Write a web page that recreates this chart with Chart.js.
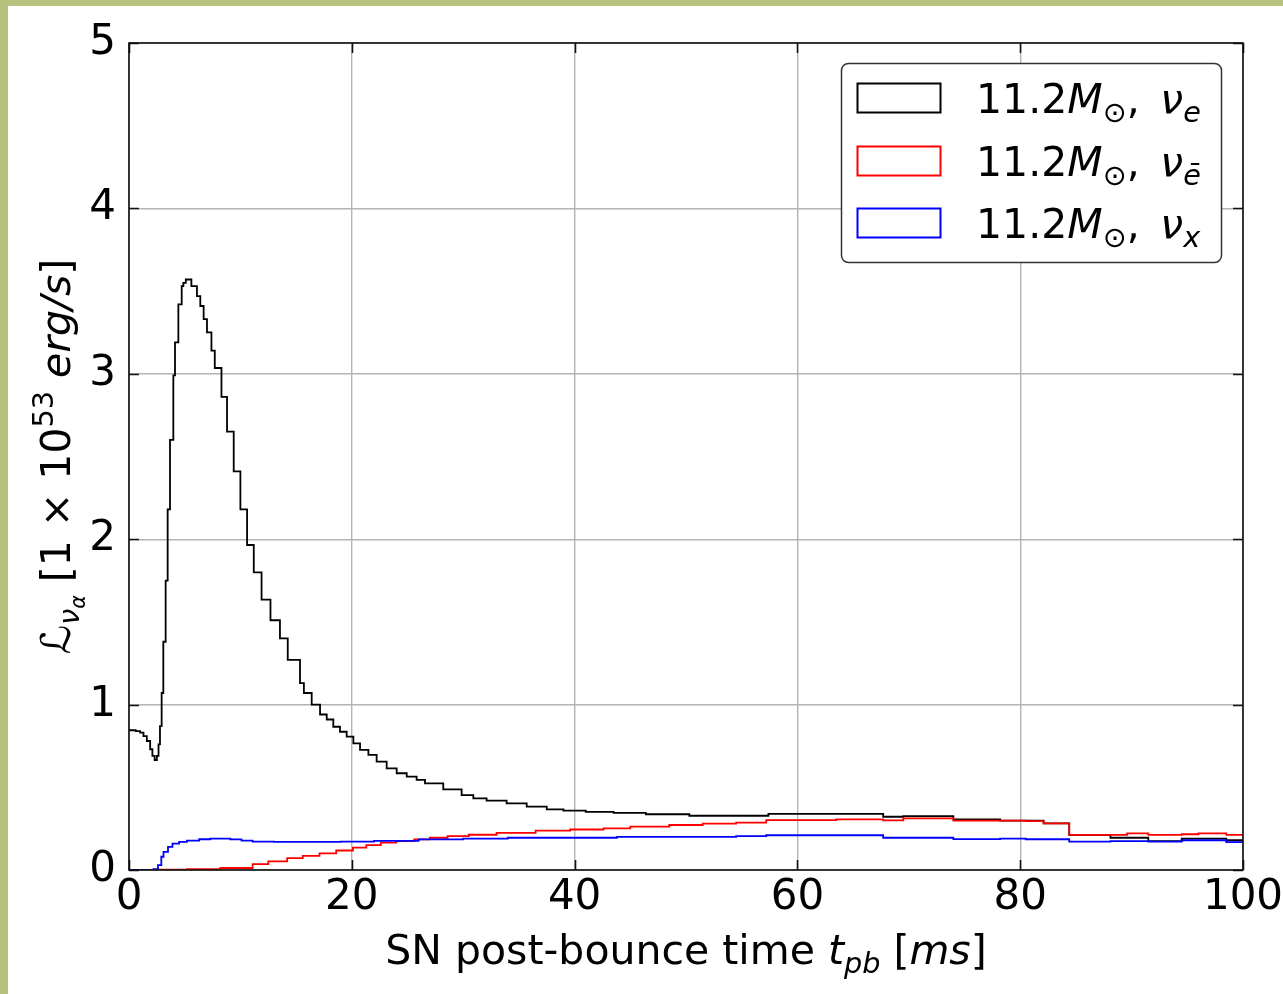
<!DOCTYPE html>
<html>
<head>
<meta charset="utf-8">
<title>SN neutrino luminosity</title>
<script src="https://cdn.jsdelivr.net/npm/chart.js@4.4.0/dist/chart.umd.min.js"></script>
<style>
  html, body { margin: 0; padding: 0; background: #fff; }
  #wrap { position: relative; width: 1283px; height: 994px; background: #fff; overflow: hidden; }
  .edgeTop { position: absolute; left: 0; top: 0; width: 1283px; height: 6px; background: #b9c17f; }
  .edgeLeft { position: absolute; left: 0; top: 0; width: 8px; height: 994px; background: #b9c17f; }
  #myChart { position: absolute; left: 0; top: 0; }
</style>
</head>
<body>
<div id="wrap">
  <div class="edgeTop"></div>
  <div class="edgeLeft"></div>
  <canvas id="myChart" width="1283" height="994"></canvas>
</div>
<script>
// data (time in ms, luminosity in 1e53 erg/s)

var blackT = [0, 0.6, 1.0, 1.3, 1.6, 1.9, 2.1, 2.3, 2.5, 2.65, 2.78, 2.93, 3.08, 3.29, 3.47, 3.68, 3.98, 4.13, 4.43, 4.73,
  4.88, 5.1, 5.6, 6.1, 6.4, 6.7, 7.0, 7.4, 7.7, 8.3, 8.8, 9.4, 10.0, 10.6, 11.2, 11.9, 12.7, 13.55, 14.25, 15.35,
  15.7, 16.4, 17.15, 17.75, 18.34, 18.94, 19.54, 20.14, 20.74, 21.49, 22.23, 23.13, 24.03, 24.93, 25.82, 26.57, 28.21, 29.86, 30.91, 32.1,
  33.9, 35.7, 37.5, 39.0, 41.0, 43.5, 46.4, 50.3, 57.4, 67.7, 69.5, 74.0, 78.2, 82.1, 84.4, 88.1, 91.5, 94.5, 98.5, 100];
var blackL = [0.845, 0.84, 0.83, 0.81, 0.78, 0.73, 0.69, 0.665, 0.69, 0.76, 0.87, 1.07, 1.38, 1.75, 2.18, 2.6, 2.99, 3.19, 3.42, 3.53,
  3.55, 3.57, 3.53, 3.47, 3.41, 3.33, 3.25, 3.14, 3.035, 2.86, 2.65, 2.41, 2.18, 1.965, 1.80, 1.635, 1.51, 1.40, 1.27, 1.13,
  1.07, 1.0, 0.94, 0.91, 0.866, 0.836, 0.806, 0.766, 0.726, 0.696, 0.655, 0.615, 0.585, 0.565, 0.545, 0.524, 0.488, 0.453, 0.433, 0.419,
  0.403, 0.383, 0.367, 0.359, 0.352, 0.345, 0.337, 0.328, 0.339, 0.322, 0.326, 0.306, 0.298, 0.282, 0.212, 0.195, 0.175, 0.19, 0.18, 0.18];

var redT = [0, 2.2, 5.2, 8.2, 11.1, 12.5, 14.2, 15.6, 17.1, 18.6, 20.1, 21.3, 22.6, 24.0, 25.6, 27.0, 28.6, 30.5, 33.0, 36.5,
  39.6, 42.6, 45.0, 48.5, 51.5, 54.5, 57.2, 63.5, 67.7, 69.5, 74.0, 78.2, 80.5, 82.1, 84.4, 89.6, 91.5, 94.5, 96.0, 98.5, 100];
var redL = [0, 0.002, 0.005, 0.012, 0.036, 0.052, 0.072, 0.085, 0.10, 0.118, 0.135, 0.15, 0.165, 0.175, 0.185, 0.195, 0.205, 0.213, 0.225, 0.238,
  0.245, 0.252, 0.262, 0.272, 0.28, 0.286, 0.302, 0.306, 0.30, 0.312, 0.298, 0.298, 0.296, 0.282, 0.212, 0.222, 0.212, 0.216, 0.222, 0.212, 0.212];

var blueT = [0, 2.2, 2.6, 2.9, 3.1, 3.5, 3.9, 4.5, 5.2, 6.3, 7.3, 8.2, 9.1, 10.1, 11.1, 13.0, 16.0, 19.0, 22.0, 26.0,
  30.0, 34.0, 39.6, 43.8, 54.5, 57.2, 67.7, 74.0, 78.2, 80.5, 84.4, 88.1, 91.5, 94.5, 98.5, 100];
var blueL = [0, 0.005, 0.03, 0.08, 0.11, 0.14, 0.16, 0.17, 0.178, 0.186, 0.19, 0.19, 0.185, 0.178, 0.172, 0.17, 0.17, 0.172, 0.176, 0.185,
  0.19, 0.195, 0.195, 0.20, 0.205, 0.21, 0.195, 0.187, 0.19, 0.186, 0.171, 0.175, 0.171, 0.18, 0.168, 0.168];

var xTicks = [0, 20, 40, 60, 80, 100];
var yTicks = [0, 1, 2, 3, 4, 5];

// legend subscripts for nu_e, nu_ebar, nu_x
var seriesNames = ['e', '\u0113', 'x'];
var seriesColors = ['#000000', '#ff0000', '#0000ff'];

var FONT = '"DejaVu Sans", "Liberation Sans", sans-serif';

function toPoints(ts, ls) {
  return ts.map(function (t, i) { return { x: t, y: ls[i] }; });
}

// draw text made of parts: normal / italic / sub / sup
function richFont(p, size) {
  var s = size;
  if (p.lv === 1 || p.lv === -1) s = size * 0.7;
  if (p.lv === 2) s = size * 0.5;
  return (p.it ? 'italic ' : '') + s.toFixed(1) + 'px ' + FONT;
}
function richOffset(p, size) {
  if (p.lv === 1) return size * 0.22;
  if (p.lv === -1) return -size * 0.42;
  if (p.lv === 2) return size * 0.36;
  return 0;
}
function richWidth(ctx, parts, size) {
  var w = 0;
  parts.forEach(function (p) { ctx.font = richFont(p, size); w += ctx.measureText(p.t).width; });
  return w;
}
function drawRich(ctx, parts, x, y, size) {
  ctx.textBaseline = 'alphabetic';
  ctx.textAlign = 'left';
  parts.forEach(function (p) {
    ctx.font = richFont(p, size);
    ctx.fillText(p.t, x, y + richOffset(p, size));
    x += ctx.measureText(p.t).width;
  });
}

var xTitle = [{ t: 'SN post-bounce time ' }, { t: 't', it: 1 }, { t: 'pb', it: 1, lv: 1 }, { t: ' [' }, { t: 'ms', it: 1 }, { t: ']' }];
var yTitle = [{ t: '\u2112', it: 1 }, { t: '\u03bd', it: 1, lv: 1 }, { t: '\u03b1', it: 1, lv: 2 }, { t: ' [1 \u00d7 10' },
  { t: '53', lv: -1 }, { t: ' ' }, { t: 'erg/s', it: 1 }, { t: ']' }];

// frame, inward ticks, axis titles and legend
var decorPlugin = {
  id: 'decor',
  afterDraw: function (chart) {
    var ctx = chart.ctx;
    var a = chart.chartArea;
    var xs = chart.scales.x, ys = chart.scales.y;
    ctx.save();
    ctx.strokeStyle = '#111';
    ctx.lineWidth = 1.6;
    ctx.strokeRect(a.left, a.top, a.right - a.left, a.bottom - a.top);

    // ticks pointing in
    ctx.beginPath();
    xTicks.forEach(function (v) {
      var px = Math.round(xs.getPixelForValue(v)) + 0.5;
      ctx.moveTo(px, a.bottom); ctx.lineTo(px, a.bottom - 10);
      ctx.moveTo(px, a.top); ctx.lineTo(px, a.top + 10);
    });
    yTicks.forEach(function (v) {
      var py = Math.round(ys.getPixelForValue(v)) + 0.5;
      ctx.moveTo(a.left, py); ctx.lineTo(a.left + 10, py);
      ctx.moveTo(a.right, py); ctx.lineTo(a.right - 10, py);
    });
    ctx.stroke();

    ctx.fillStyle = '#000';
    var xw = richWidth(ctx, xTitle, 41);
    drawRich(ctx, xTitle, (a.left + a.right) / 2 - xw / 2, 964, 41);

    ctx.translate(70, (a.top + a.bottom) / 2);
    ctx.rotate(-Math.PI / 2);
    var yw = richWidth(ctx, yTitle, 41);
    drawRich(ctx, yTitle, -yw / 2, 0, 41);
    ctx.restore();

    // legend box
    ctx.save();
    ctx.fillStyle = '#fff';
    ctx.strokeStyle = '#333';
    ctx.lineWidth = 1.5;
    ctx.beginPath();
    ctx.roundRect(841.5, 63.5, 380, 199, 7);
    ctx.fill();
    ctx.stroke();
    var rowsY = [83, 146, 208];
    seriesNames.forEach(function (nm, i) {
      ctx.strokeStyle = seriesColors[i];
      ctx.lineWidth = 2;
      ctx.strokeRect(857.5, rowsY[i] + 0.5, 83, 29);
      ctx.fillStyle = '#000';
      drawRich(ctx, [{ t: '11.2' }, { t: 'M', it: 1 }, { t: '\u2299', lv: 1 }, { t: ',\u2002' },
        { t: '\u03bd', it: 1 }, { t: nm, it: 1, lv: 1 }], 976, rowsY[i] + 30, 41);
    });
    ctx.restore();
  }
};

var ctx = document.getElementById('myChart').getContext('2d');
var myChart = new Chart(ctx, {
  type: 'line',
  data: {
    datasets: [{
      label: '11.2 Msun, nu_e',
      data: toPoints(blackT, blackL),
      borderColor: seriesColors[0],
      order: 2
    }, {
      label: '11.2 Msun, nu_ebar',
      data: toPoints(redT, redL),
      borderColor: seriesColors[1],
      order: 1
    }, {
      label: '11.2 Msun, nu_x',
      data: toPoints(blueT, blueL),
      borderColor: seriesColors[2],
      order: 0
    }]
  },
  options: {
    responsive: false,
    animation: false,
    devicePixelRatio: 1,
    layout: { padding: { top: 43, right: 40, left: 0, bottom: 0 } },
    elements: {
      point: { radius: 0 },
      line: { borderWidth: 1.8, stepped: true, tension: 0, fill: false }
    },
    plugins: { legend: { display: false }, tooltip: { enabled: false } },
    scales: {
      x: {
        type: 'linear', min: 0, max: 100,
        afterBuildTicks: function (s) { s.ticks = xTicks.map(function (v) { return { value: v }; }); },
        ticks: { color: '#000', padding: 3, font: { family: FONT, size: 42 } },
        grid: { color: '#b4b4b4', lineWidth: 1.4, drawTicks: false },
        border: { display: false },
        afterFit: function (s) { s.height = 124; s.paddingLeft = 0; s.paddingRight = 0; }
      },
      y: {
        type: 'linear', min: 0, max: 5,
        afterBuildTicks: function (s) { s.ticks = yTicks.map(function (v) { return { value: v }; }); },
        ticks: { color: '#000', padding: 13, font: { family: FONT, size: 42 } },
        grid: { color: '#b4b4b4', lineWidth: 1.4, drawTicks: false },
        border: { display: false },
        afterFit: function (s) { s.width = 129; s.paddingTop = 0; s.paddingBottom = 0; }
      }
    }
  },
  plugins: [decorPlugin]
});
</script>
</body>
</html>
